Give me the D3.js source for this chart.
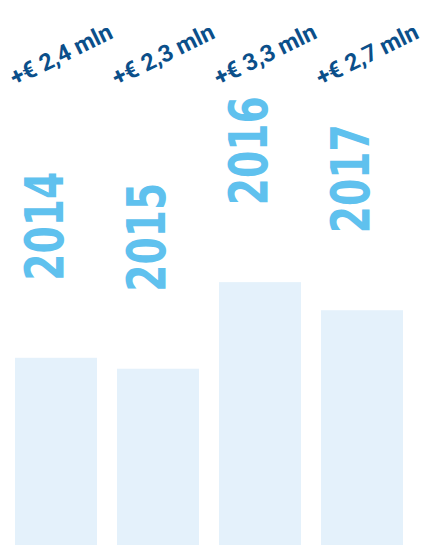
<!DOCTYPE html>
<html>
<head>
<meta charset="utf-8">
<script src="https://cdn.jsdelivr.net/npm/d3@7"></script>
<style>
  html, body { margin: 0; padding: 0; background: #fff; }
  svg { display: block; }
</style>
</head>
<body>
<svg id="chart"></svg>
<script>
const years = ["2014", "2015", "2016", "2017"]
const growthLabels = ["+€ 2,4 mln", "+€ 2,3 mln", "+€ 3,3 mln", "+€ 2,7 mln"]
// bar heights (mln)
const barValues = [2.4, 2.26, 3.37, 3.01]

const width = 425, height = 545
const svg = d3.select("#chart").attr("width", width).attr("height", height)

const x = d3.scaleBand()
    .domain(years)
    .range([15, 403])
    .paddingInner(0.196)
    .paddingOuter(0)

const y = d3.scaleLinear()
    .domain([0, 3.5])
    .range([height, height - 3.5 * 78])

// bars
svg.selectAll("rect.bar")
    .data(years)
    .enter()
    .append("rect")
    .attr("class", "bar")
    .attr("x", d => x(d))
    .attr("width", x.bandwidth())
    .attr("y", (d, i) => y(barValues[i]))
    .attr("height", (d, i) => height - y(barValues[i]))
    .attr("fill", "#e4f1fb")

// year labels, vertical, sitting above each bar
svg.selectAll("text.year")
    .data(years)
    .enter()
    .append("text")
    .attr("class", "year")
    .attr("transform", (d, i) => `translate(${x(d) + 48},${y(barValues[i]) - 77}) rotate(-90)`)
    .attr("font-family", "DejaVu Sans")
    .attr("font-weight", "bold")
    .attr("font-size", 54)
    .attr("textLength", 109)
    .attr("lengthAdjust", "spacingAndGlyphs")
    .attr("fill", "#5fc1ee")
    .text(d => d)

// growth labels at the top, slanted
svg.selectAll("text.growth")
    .data(years)
    .enter()
    .append("text")
    .attr("class", "growth")
    .attr("transform", d => `translate(${x(d)},${86}) rotate(-26)`)
    .attr("font-family", "Roboto")
    .attr("font-weight", "bold")
    .attr("font-size", 23.5)
    .attr("fill", "#0b4f8a")
    .text((d, i) => growthLabels[i])
</script>
</body>
</html>
